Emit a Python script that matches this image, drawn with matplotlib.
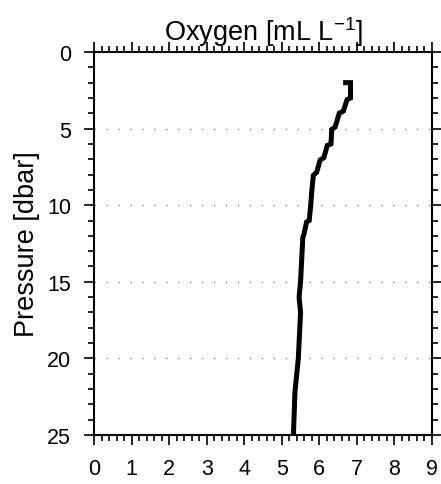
import numpy as np
import matplotlib
matplotlib.use("Agg")
import matplotlib.pyplot as plt
from matplotlib.ticker import MultipleLocator

plt.rcParams['font.family'] = ['Liberation Sans', 'DejaVu Sans']
plt.rcParams['mathtext.fontset'] = 'custom'
plt.rcParams['mathtext.rm'] = 'Liberation Sans'
plt.rcParams['mathtext.it'] = 'Liberation Sans:italic'

# profile (pressure in dbar, oxygen in mL/L)
pressure = [2.0, 2.0, 3.0, 3.1, 3.85, 4.0, 4.9, 5.05, 6.0, 6.1, 6.9, 7.05,
            7.85, 8.05, 9.05, 10.0, 11.0, 11.1, 11.9, 12.1, 15.0, 16.0, 17.0,
            20.0, 22.2, 25.0]
oxygen = [6.70, 6.83, 6.83, 6.74, 6.64, 6.53, 6.42, 6.33, 6.31, 6.21, 6.12,
          6.02, 5.93, 5.84, 5.80, 5.77, 5.73, 5.66, 5.59, 5.56, 5.50, 5.46,
          5.50, 5.44, 5.35, 5.31]

grid_levels = [5, 10, 15, 20]

fig = plt.figure(figsize=(4.41, 4.85), dpi=100)
ax = fig.add_axes([0.2132, 0.101, 0.7664, 0.7897])

for lev in grid_levels:
    ax.axhline(lev, color='#888888', lw=1.0, linestyle=(0, (1, 7.6)), zorder=1)

ax.plot(oxygen, pressure, color='black', lw=3.6, solid_joinstyle='miter', zorder=3)

ax.set_xlim(0, 9)
ax.set_ylim(25, 0)
ax.xaxis.set_major_locator(MultipleLocator(1))
ax.xaxis.set_minor_locator(MultipleLocator(0.2))
ax.yaxis.set_major_locator(MultipleLocator(5))
ax.yaxis.set_minor_locator(MultipleLocator(1))

ax.tick_params(which='both', direction='out', top=True, right=True,
               labeltop=False, labelright=False, width=1.2, color='black')
ax.tick_params(which='major', length=7.5, labelsize=15.5, pad=9)
ax.tick_params(which='minor', length=4)

for sp in ax.spines.values():
    sp.set_linewidth(1.5)

ax.set_title('Oxygen [mL L$^{-1}$]', fontsize=19.5, pad=9)
ax.set_ylabel('Pressure [dbar]', fontsize=19.5, labelpad=5)

fig.savefig('out.png', dpi=100)
